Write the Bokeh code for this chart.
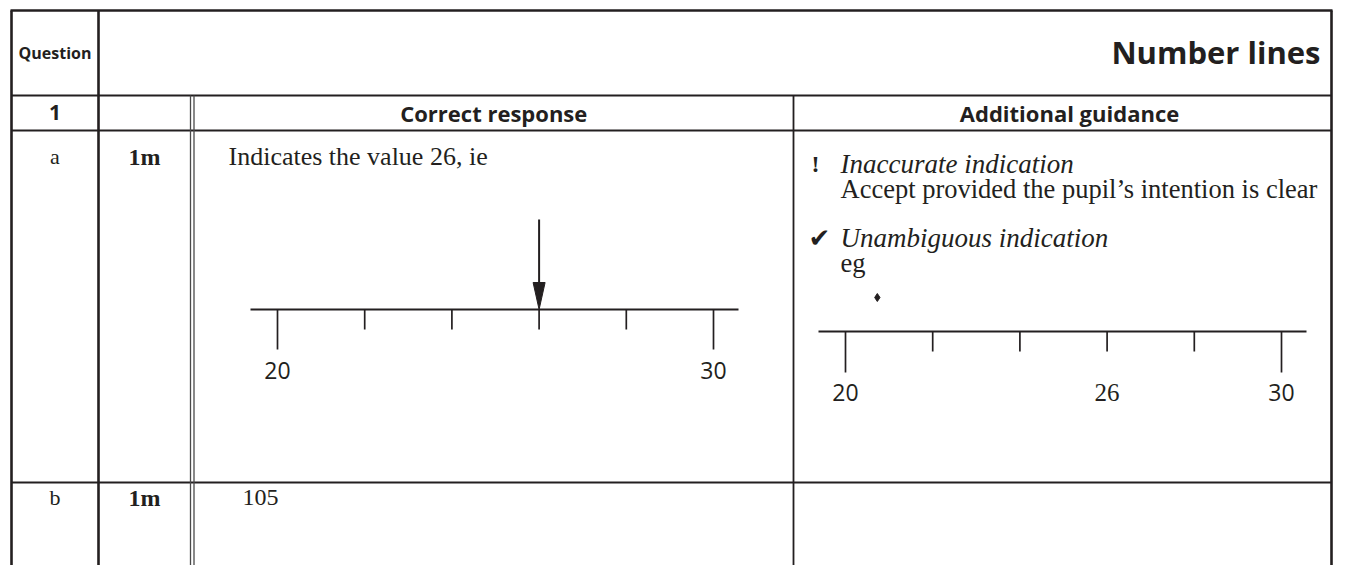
from bokeh.plotting import figure
from bokeh.models import Range1d
from bokeh.core.properties import value
from bokeh.embed import file_html
from bokeh.resources import INLINE

# ---- content / data ----
title = "Number lines"
question_label = "Question"
question_number = "1"
col_headers = ["Correct response", "Additional guidance"]
parts = ["a", "b"]
marks = ["1m", "1m"]
responses = ["Indicates the value 26, ie", "105"]
guidance_lines = ["Inaccurate indication", "Accept provided the pupil\u2019s intention is clear",
                  "Unambiguous indication", "eg"]
guidance_symbols = ["!", "\u2714"]

tick_values = [20, 22, 24, 26, 28, 30]
left_labels = [20, 30]
answer_value = 26
right_sans_labels = [20, 30]
right_serif_labels = [26]
diamond_value = 20.73
nl_min, nl_max = 20, 30

INK = "#231f20"
SANS = value("Open Sans")
SERIF = value("Liberation Serif")

W, H = 1334, 565
p = figure(width=W, height=H, x_range=Range1d(0, W), y_range=Range1d(H, 0),
           output_backend="svg", toolbar_location=None, min_border=0)
p.axis.visible = False
p.grid.visible = False
p.outline_line_color = None
p.background_fill_color = "white"
p.border_fill_color = "white"

# ---- table grid ----
L, R, T, B = 11, 1331, 10, H
qcol, mcol_a, mcol_b, ccol = 98, 190, 193.5, 793
hdr, row1, rowa = 95, 130, 482

p.segment(x0=[L, qcol, R], y0=[T, T, T], x1=[L, qcol, R], y1=[B, B, B], line_color=INK, line_width=2.6)
p.segment(x0=[L - 1], y0=[T], x1=[R + 1], y1=[T], line_color=INK, line_width=2.6)
p.segment(x0=[L, L, L], y0=[hdr, row1, rowa], x1=[R, R, R], y1=[hdr, row1, rowa], line_color=INK, line_width=1.8)
p.segment(x0=[mcol_a, mcol_b], y0=[hdr, hdr], x1=[mcol_a, mcol_b], y1=[B, B], line_color="#4a4a4a", line_width=1.3)
p.segment(x0=[ccol], y0=[hdr], x1=[ccol], y1=[B], line_color=INK, line_width=1.8)

# ---- header texts ----
p.text(x=[(L + qcol) / 2], y=[52], text=[question_label], text_font=SANS, text_font_style="bold",
       text_font_size="16px", text_align="center", text_baseline="middle", text_color=INK)
p.text(x=[1320], y=[51], text=[title], text_font=SANS, text_font_style="bold",
       text_font_size="31px", text_align="right", text_baseline="middle", text_color=INK)
p.text(x=[(L + qcol) / 2], y=[112], text=[question_number], text_font=SANS, text_font_style="bold",
       text_font_size="21px", text_align="center", text_baseline="middle", text_color=INK)
p.text(x=[(mcol_b + ccol) / 2, (ccol + R) / 2 + 7], y=[112, 112], text=col_headers, text_font=SANS,
       text_font_style="bold", text_font_size="22px", text_align="center", text_baseline="middle", text_color=INK)

# ---- row labels ----
row_y = [156, 497]
p.text(x=[(L + qcol) / 2] * 2, y=row_y, text=parts, text_font=SERIF, text_font_size="22px",
       text_align="center", text_baseline="middle", text_color=INK)
p.text(x=[(qcol + mcol_a) / 2] * 2, y=row_y, text=marks, text_font=SERIF, text_font_style="bold",
       text_font_size="24px", text_align="center", text_baseline="middle", text_color=INK)
p.text(x=[228], y=[row_y[0]], text=[responses[0]], text_font=SERIF, text_font_size="26px",
       text_align="left", text_baseline="middle", text_color=INK)
p.text(x=[242], y=[row_y[1]], text=[responses[1]], text_font=SERIF, text_font_size="24px",
       text_align="left", text_baseline="middle", text_color=INK)

# ---- guidance texts ----
gy = [163, 188, 237, 262]
p.text(x=[840, 840], y=[gy[0], gy[2]], text=[guidance_lines[0], guidance_lines[2]], text_font=SERIF,
       text_font_style="italic", text_font_size="27px", text_align="left", text_baseline="middle", text_color=INK)
p.text(x=[840, 840], y=[gy[1], gy[3]], text=[guidance_lines[1], guidance_lines[3]], text_font=SERIF,
       text_font_size="26.5px", text_align="left", text_baseline="middle", text_color=INK)
p.text(x=[815], y=[gy[0]], text=[guidance_symbols[0]], text_font=SERIF, text_font_style="bold",
       text_font_size="24px", text_align="center", text_baseline="middle", text_color=INK)
p.text(x=[819], y=[gy[2]], text=[guidance_symbols[1]], text_font=value("DejaVu Sans"),
       text_font_size="26px", text_align="center", text_baseline="middle", text_color=INK)


# ---- number lines ----
def draw_number_line(x_start, y_line, sans_labels, serif_labels, long_len, short_len, label_dy):
    unit = 43.6
    def xv(v):
        return x_start + (v - nl_min) * unit
    p.segment(x0=[xv(nl_min) - 27], y0=[y_line], x1=[xv(nl_max) + 25], y1=[y_line],
              line_color=INK, line_width=2.2)
    xs = [xv(v) for v in tick_values]
    lengths = [long_len if v in (nl_min, nl_max) else short_len for v in tick_values]
    p.segment(x0=xs, y0=[y_line] * len(xs), x1=xs, y1=[y_line + l for l in lengths],
              line_color=INK, line_width=1.7)
    p.text(x=[xv(v) for v in sans_labels], y=[y_line + label_dy] * len(sans_labels),
           text=[str(v) for v in sans_labels], text_font=SANS, text_font_size="23px",
           text_align="center", text_baseline="middle", text_color=INK)
    if serif_labels:
        p.text(x=[xv(v) for v in serif_labels], y=[y_line + label_dy] * len(serif_labels),
               text=[str(v) for v in serif_labels], text_font=SERIF, text_font_size="25px",
               text_align="center", text_baseline="middle", text_color=INK)
    return xv


xl = draw_number_line(277, 309, left_labels, [], 40, 20, 61)
ax = xl(answer_value)
p.segment(x0=[ax], y0=[219], x1=[ax], y1=[285], line_color=INK, line_width=2)
p.patch(x=[ax - 6, ax + 6, ax], y=[282, 282, 309], fill_color=INK, line_color=INK, line_width=1)

xr = draw_number_line(845, 331, right_sans_labels, right_serif_labels, 41, 20, 61)
p.scatter(x=[xr(diamond_value)], y=[297], marker="diamond", size=8, fill_color=INK, line_color=INK)

open("out.html", "w").write(file_html(p, INLINE))
